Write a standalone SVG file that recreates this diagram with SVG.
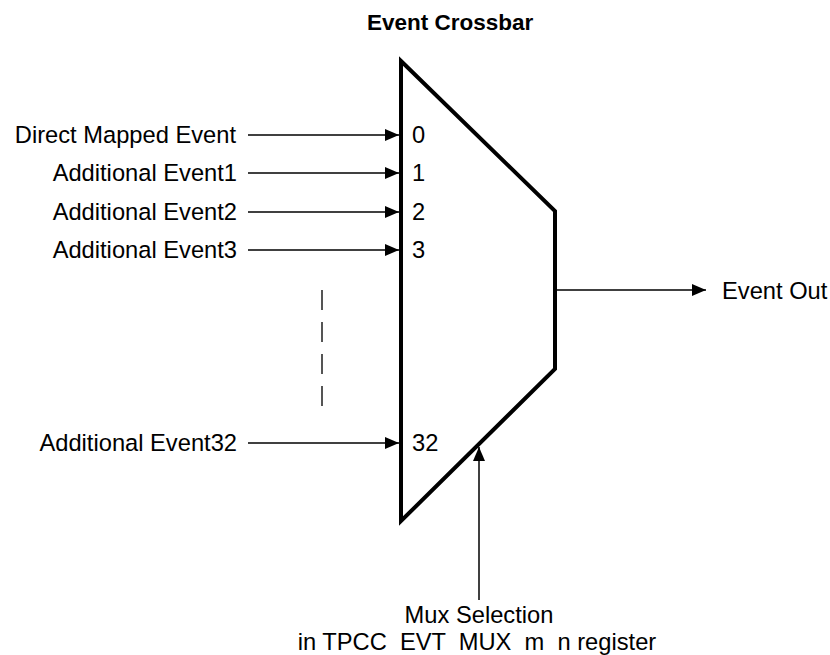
<svg xmlns="http://www.w3.org/2000/svg" width="830" height="655" viewBox="0 0 830 655">
<style>
text{font-family:"Liberation Sans",Arial,sans-serif;font-size:23.7px;fill:#000}
.title{font-weight:bold;font-size:22.5px}
.lbl{text-anchor:end}
.mid{text-anchor:middle;white-space:pre}
.wire{stroke:#000;stroke-width:1.5;fill:none}
</style>
<defs>
<marker id="ah" markerWidth="14" markerHeight="12" refX="14" refY="6" orient="auto" markerUnits="userSpaceOnUse">
<path d="M0,0 L14,6 L0,12 Z" fill="#000"/>
</marker>
</defs>
<rect width="830" height="655" fill="#fff"/>
<text class="title" x="367" y="30">Event Crossbar</text>
<g id="mux">
<polygon points="401,61 555,211 555,369 401,521" fill="#fff" stroke="#000" stroke-width="4" stroke-linejoin="miter"/>
<text x="412" y="143">0</text>
<text x="412" y="181">1</text>
<text x="412" y="220">2</text>
<text x="412" y="258">3</text>
<text x="412" y="451">32</text>
</g>
<g id="inputs">
<text class="lbl" x="236" y="143">Direct Mapped Event</text>
<text class="lbl" x="237" y="181">Additional Event1</text>
<text class="lbl" x="237" y="220">Additional Event2</text>
<text class="lbl" x="237" y="258">Additional Event3</text>
<text class="lbl" x="237" y="451">Additional Event32</text>
</g>
<g id="out">
<text x="722" y="299">Event Out</text>
</g>
<g id="sel">
<text class="mid" x="479" y="623">Mux Selection</text>
<text class="mid" x="477" y="650">in TPCC  EVT  MUX  m  n register</text>
</g>
<g id="connectors">
<line class="wire" x1="248" y1="135" x2="399" y2="135" marker-end="url(#ah)"/>
<line class="wire" x1="248" y1="173" x2="399" y2="173" marker-end="url(#ah)"/>
<line class="wire" x1="248" y1="212" x2="399" y2="212" marker-end="url(#ah)"/>
<line class="wire" x1="248" y1="250" x2="399" y2="250" marker-end="url(#ah)"/>
<line class="wire" x1="248" y1="443" x2="399" y2="443" marker-end="url(#ah)"/>
<line class="wire" x1="557" y1="290" x2="706" y2="290" marker-end="url(#ah)"/>
<line class="wire" x1="479" y1="600" x2="479" y2="447" marker-end="url(#ah)"/>
<line x1="322" y1="290" x2="322" y2="406" stroke="#555" stroke-width="2" stroke-dasharray="20 12"/>
</g>
</svg>
